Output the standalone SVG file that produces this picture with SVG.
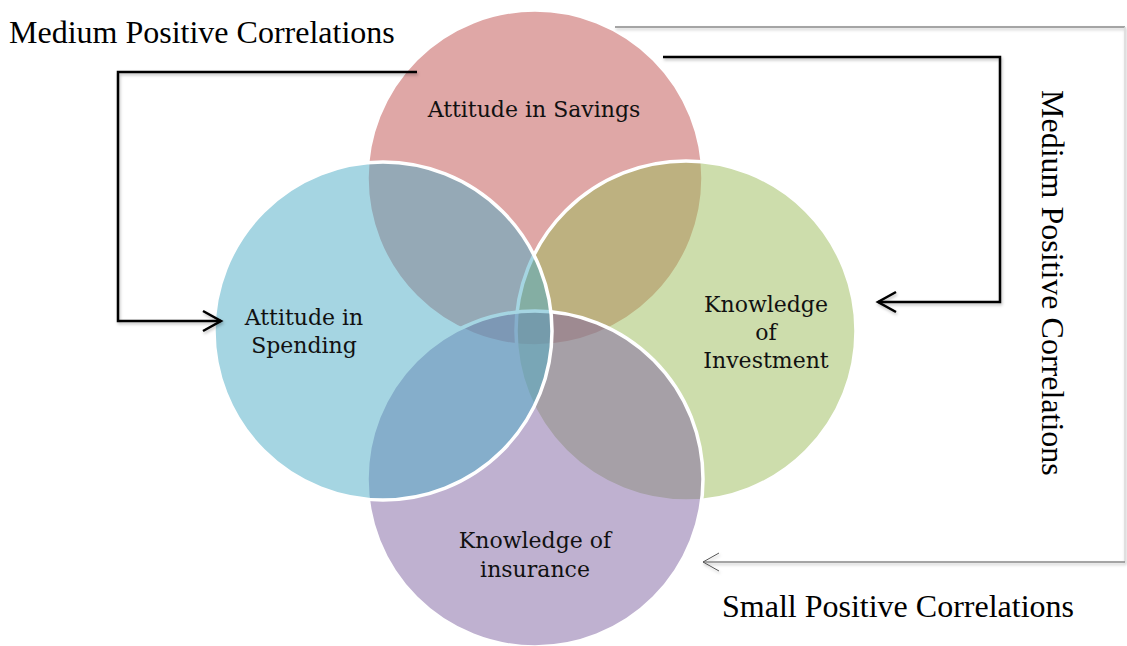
<svg xmlns="http://www.w3.org/2000/svg" width="1127" height="646" viewBox="0 0 1127 646">
  <defs>
    <style>
      .circle { stroke: #ffffff; stroke-width: 3.5; fill-opacity: 0.5; }
      .label { font-family: "DejaVu Serif", "Liberation Serif", serif; font-size: 22px; fill: #111111; text-anchor: middle; }
      .outer { font-family: "Liberation Serif", "Times New Roman", serif; font-size: 32px; fill: #000000; }
      .conn { fill: none; stroke: #000000; stroke-width: 2.5; stroke-linejoin: miter; }
      .conn-gray { fill: none; stroke: #8a8a8a; stroke-width: 1.5; }
    </style>
    <filter id="shadow" x="-10%" y="-10%" width="120%" height="120%">
      <feDropShadow dx="1" dy="2" stdDeviation="1.5" flood-color="#000000" flood-opacity="0.25"/>
    </filter>
  </defs>
  <rect width="1127" height="646" fill="#ffffff"/>

  <g id="node-savings">
    <circle class="circle" cx="535" cy="178" r="168" fill="#C0504D"/>
  </g>
  <g id="node-investment">
    <circle class="circle" cx="686" cy="331" r="170" fill="#9BBB59"/>
  </g>
  <g id="node-insurance">
    <circle class="circle" cx="535" cy="479" r="168" fill="#8064A2"/>
  </g>
  <g id="node-spending">
    <circle class="circle" cx="383" cy="331" r="169" fill="#4BACC6"/>
  </g>

  <g id="labels">
    <text class="label" x="534" y="117">Attitude in Savings</text>
    <text class="label" x="304" y="325">Attitude in</text>
    <text class="label" x="304" y="353">Spending</text>
    <text class="label" x="766" y="312">Knowledge</text>
    <text class="label" x="766" y="340">of</text>
    <text class="label" x="766" y="368">Investment</text>
    <text class="label" x="535" y="548">Knowledge of</text>
    <text class="label" x="535" y="577">insurance</text>
  </g>

  <g id="connectors" filter="url(#shadow)">
    <polyline class="conn" points="417,72 118,72 118,321 221,321"/>
    <polyline class="conn" points="203,311 221,321 203,331"/>
    <polyline class="conn" points="663,57 1000,57 1000,302 878,302"/>
    <polyline class="conn" points="896,292 878,302 896,312"/>
    <polyline class="conn-gray" points="615,27 1125,27"/>
    <polyline points="1125,27 1125,562" fill="none" stroke="#d8d8d8" stroke-width="1.5"/>
    <polyline class="conn-gray" points="1125,562 703,562"/>
    <polyline points="719,553 703,562 719,571" fill="none" stroke="#555555" stroke-width="1"/>
  </g>

  <g id="outer-labels">
    <text class="outer" x="9" y="43">Medium Positive Correlations</text>
    <text class="outer" transform="translate(1042,90) rotate(90)">Medium Positive Correlations</text>
    <text class="outer" x="722" y="617">Small Positive Correlations</text>
  </g>
</svg>
